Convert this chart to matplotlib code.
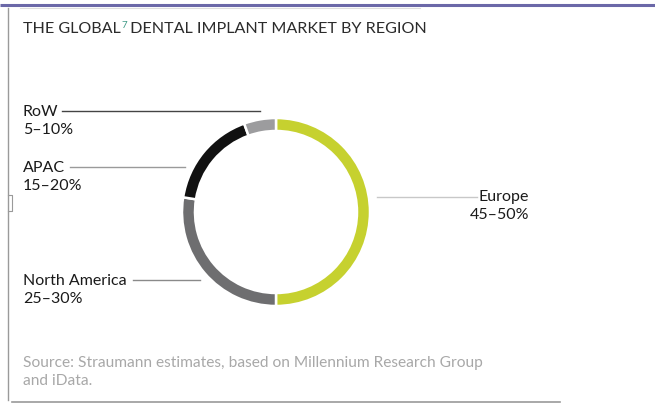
import matplotlib
matplotlib.use("Agg")
import matplotlib.pyplot as plt

# Market share by region (percent of global dental implant market)
regions = ["Europe", "North America", "APAC", "RoW"]
shares = [50.0, 27.5, 17.0, 5.5]
share_labels = ["45–50%", "25–30%", "15–20%", "5–10%"]
colors = ["#c6d12f", "#6e6e70", "#111111", "#9c9c9e"]

title = "THE GLOBAL"
title_sup = "7"
title_rest = " DENTAL IMPLANT MARKET BY REGION"
source_lines = ["Source: Straumann estimates, based on Millennium Research Group",
                "and iData."]

W, H = 655, 406
fig = plt.figure(figsize=(W / 100, H / 100), dpi=100)
fig.patch.set_facecolor("white")

# Canvas axes in pixel coordinates for text and frame
bg = fig.add_axes([0, 0, 1, 1])
bg.set_xlim(0, W)
bg.set_ylim(H, 0)
bg.axis("off")

font = ["Lato", "DejaVu Sans"]

# Frame lines
bg.plot([0, W], [6, 6], color="#6b68a8", lw=2.2, solid_capstyle="butt")
bg.plot([20, 420], [9, 9], color="#dddddd", lw=0.8)
bg.plot([7.5, 7.5], [9, 401], color="#9a9a9a", lw=1.0)
bg.plot([7.5, 12, 12, 7.5], [196, 196, 212, 212], color="#9a9a9a", lw=0.8)
bg.plot([12, 560], [403, 403], color="#9a9a9a", lw=1.2)

# Title with superscript
t1 = bg.text(23, 29, title, fontsize=11.6, color="#2b2b2b", va="center",
             ha="left", family=font)
fig.canvas.draw()
bb = t1.get_window_extent()
t2 = bg.text(bb.x1 + 0.5, 25, title_sup, fontsize=7, color="#3f9a86",
             va="center", ha="left", family=font)
fig.canvas.draw()
bb2 = t2.get_window_extent()
bg.text(bb2.x1 - 1, 29, title_rest, fontsize=11.6, color="#2b2b2b",
        va="center", ha="left", family=font)

# Donut
cx, cy, r = 276, 213, 94
pie_ax = fig.add_axes([(cx - r) / W, (H - cy - r) / H, 2 * r / W, 2 * r / H])
pie_ax.pie(shares, colors=colors, startangle=90, counterclock=False,
           radius=1.0,
           wedgeprops=dict(width=13 / r, edgecolor="white", linewidth=1.8))
pie_ax.set_xlim(-1, 1)
pie_ax.set_ylim(-1, 1)
pie_ax.set_aspect("equal")
pie_ax.axis("off")

# Labels with leader lines
lbl_size = 11.5
label_spec = {
    "RoW": dict(x=23, y=112, line=(62, 260), lc="#444444"),
    "APAC": dict(x=23, y=168, line=(70, 185), lc="#9a9a9a"),
    "North America": dict(x=23, y=281, line=(133, 200), lc="#8a8a8a"),
}
for name, pct in zip(regions, share_labels):
    if name == "Europe":
        bg.plot([377, 477], [198, 198], color="#c8c8c8", lw=1.0)
        bg.text(529, 197, name, fontsize=lbl_size, color="#1a1a1a",
                ha="right", va="center", family=font)
        bg.text(529, 215, pct, fontsize=lbl_size, color="#1a1a1a",
                ha="right", va="center", family=font)
    else:
        s = label_spec[name]
        bg.plot(list(s["line"]), [s["y"], s["y"]], color=s["lc"], lw=1.0)
        bg.text(s["x"], s["y"], name, fontsize=lbl_size, color="#1a1a1a",
                ha="left", va="center", family=font)
        bg.text(s["x"], s["y"] + 18, pct, fontsize=lbl_size, color="#1a1a1a",
                ha="left", va="center", family=font)

# Source note
for i, line in enumerate(source_lines):
    bg.text(23, 363 + 18 * i, line, fontsize=11.2, color="#a8a8a8",
            ha="left", va="center", family=font)

fig.savefig("out.png", dpi=100, facecolor="white")
